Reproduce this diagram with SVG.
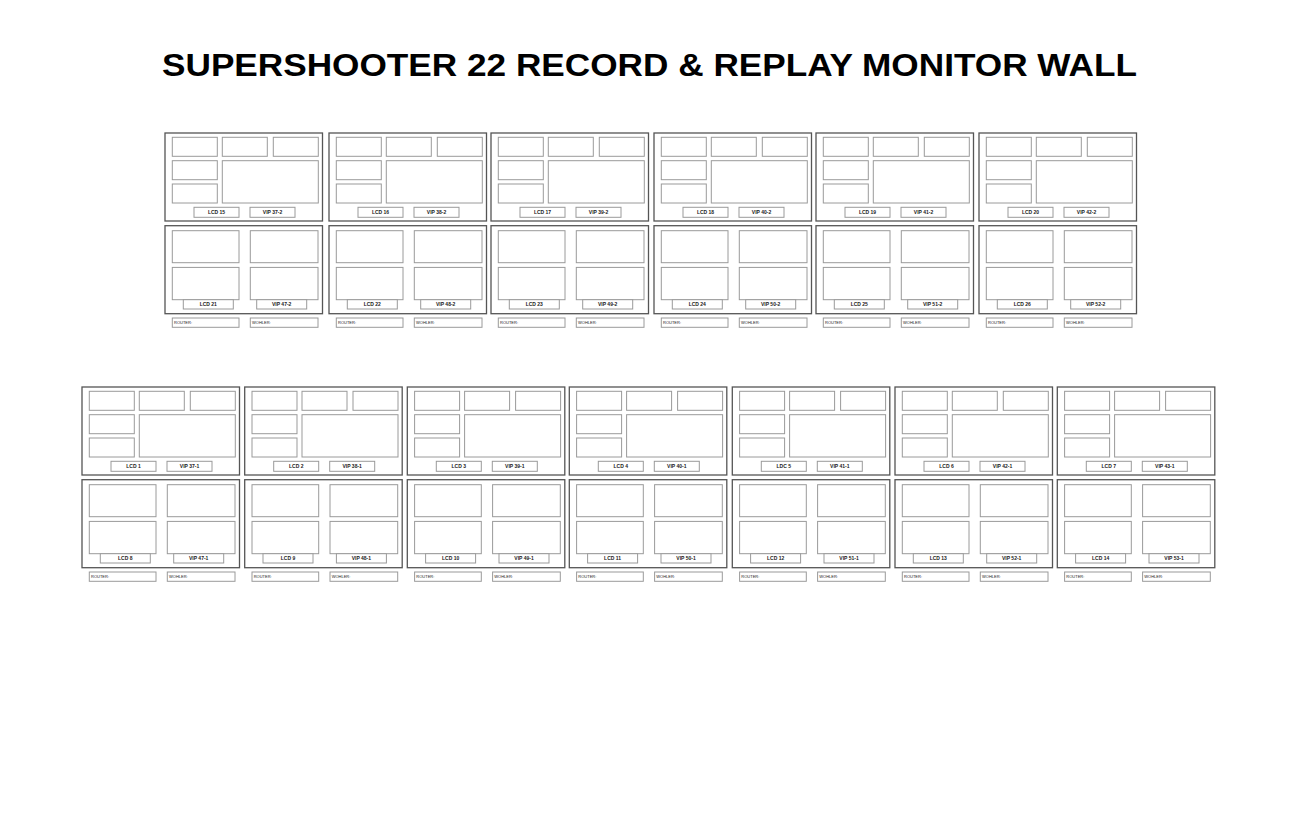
<svg xmlns="http://www.w3.org/2000/svg" xmlns:xlink="http://www.w3.org/1999/xlink" width="1300" height="835" viewBox="0 0 1300 835">
<style>
.frame{fill:#fff;stroke:#555;stroke-width:1.3}
.box{fill:#fff;stroke:#9a9a9a;stroke-width:1}
.lbl{font-family:"Liberation Sans",Arial,sans-serif;font-size:5px;font-weight:bold;fill:#222;text-anchor:middle}
.ft{font-family:"Liberation Sans",Arial,sans-serif;font-size:4px;fill:#222}
.title{font-family:"Liberation Sans",Arial,sans-serif;font-size:32px;font-weight:bold;fill:#000}
</style>
<defs>
<g id="upper">
<rect class="frame" x="0" y="0" width="157.5" height="88"/>
<rect class="box" x="7.3" y="4.3" width="45" height="19"/>
<rect class="box" x="57.3" y="4.3" width="45" height="19"/>
<rect class="box" x="108.3" y="4.3" width="45" height="19"/>
<rect class="box" x="7.3" y="27.7" width="45" height="19"/>
<rect class="box" x="7.3" y="51" width="45" height="19"/>
<rect class="box" x="57.3" y="27.7" width="96" height="42.3"/>
<rect class="box" x="29" y="74.3" width="45" height="10"/>
<rect class="box" x="85" y="74.3" width="45" height="10"/>
</g>
<g id="lower">
<rect class="frame" x="0" y="0" width="157.5" height="88"/>
<rect class="box" x="7.3" y="5" width="66.7" height="32"/>
<rect class="box" x="85.3" y="5" width="67.7" height="32"/>
<rect class="box" x="7.3" y="41.7" width="66.7" height="32.3"/>
<rect class="box" x="85.3" y="41.7" width="67.7" height="32.3"/>
<rect class="box" x="18.3" y="74" width="50" height="9.3"/>
<rect class="box" x="91.7" y="74" width="50" height="9.3"/>
<rect class="box" x="7.3" y="92.3" width="66.7" height="9.3"/>
<rect class="box" x="85.3" y="92.3" width="67.7" height="9.3"/>
<text class="ft" x="9" y="98.5">ROUTER:</text>
<text class="ft" x="87" y="98.5">WOHLER:</text>
</g>
</defs>
<rect width="1300" height="835" fill="#fff"/>
<text class="title" x="162" y="76" textLength="975" lengthAdjust="spacingAndGlyphs">SUPERSHOOTER 22 RECORD &amp; REPLAY MONITOR WALL</text>

<g id="top-row">
<g id="mon-lcd15" transform="translate(165,133)"><use xlink:href="#upper"/><text class="lbl" x="51.5" y="81">LCD 15</text><text class="lbl" x="107.5" y="81">VIP 37-2</text></g>
<g id="mon-lcd16" transform="translate(329,133)"><use xlink:href="#upper"/><text class="lbl" x="51.5" y="81">LCD 16</text><text class="lbl" x="107.5" y="81">VIP 38-2</text></g>
<g id="mon-lcd17" transform="translate(491,133)"><use xlink:href="#upper"/><text class="lbl" x="51.5" y="81">LCD 17</text><text class="lbl" x="107.5" y="81">VIP 39-2</text></g>
<g id="mon-lcd18" transform="translate(654,133)"><use xlink:href="#upper"/><text class="lbl" x="51.5" y="81">LCD 18</text><text class="lbl" x="107.5" y="81">VIP 40-2</text></g>
<g id="mon-lcd19" transform="translate(816,133)"><use xlink:href="#upper"/><text class="lbl" x="51.5" y="81">LCD 19</text><text class="lbl" x="107.5" y="81">VIP 41-2</text></g>
<g id="mon-lcd20" transform="translate(979,133)"><use xlink:href="#upper"/><text class="lbl" x="51.5" y="81">LCD 20</text><text class="lbl" x="107.5" y="81">VIP 42-2</text></g>

<g id="mon-lcd21" transform="translate(165,225.7)"><use xlink:href="#lower"/><text class="lbl" x="43.3" y="80.5">LCD 21</text><text class="lbl" x="116.7" y="80.5">VIP 47-2</text></g>
<g id="mon-lcd22" transform="translate(329,225.7)"><use xlink:href="#lower"/><text class="lbl" x="43.3" y="80.5">LCD 22</text><text class="lbl" x="116.7" y="80.5">VIP 48-2</text></g>
<g id="mon-lcd23" transform="translate(491,225.7)"><use xlink:href="#lower"/><text class="lbl" x="43.3" y="80.5">LCD 23</text><text class="lbl" x="116.7" y="80.5">VIP 49-2</text></g>
<g id="mon-lcd24" transform="translate(654,225.7)"><use xlink:href="#lower"/><text class="lbl" x="43.3" y="80.5">LCD 24</text><text class="lbl" x="116.7" y="80.5">VIP 50-2</text></g>
<g id="mon-lcd25" transform="translate(816,225.7)"><use xlink:href="#lower"/><text class="lbl" x="43.3" y="80.5">LCD 25</text><text class="lbl" x="116.7" y="80.5">VIP 51-2</text></g>
<g id="mon-lcd26" transform="translate(979,225.7)"><use xlink:href="#lower"/><text class="lbl" x="43.3" y="80.5">LCD 26</text><text class="lbl" x="116.7" y="80.5">VIP 52-2</text></g>
</g>

<g id="bottom-row">
<g id="mon-lcd1" transform="translate(82,387)"><use xlink:href="#upper"/><text class="lbl" x="51.5" y="81">LCD 1</text><text class="lbl" x="107.5" y="81">VIP 37-1</text></g>
<g id="mon-lcd2" transform="translate(244.7,387)"><use xlink:href="#upper"/><text class="lbl" x="51.5" y="81">LCD 2</text><text class="lbl" x="107.5" y="81">VIP 38-1</text></g>
<g id="mon-lcd3" transform="translate(407.3,387)"><use xlink:href="#upper"/><text class="lbl" x="51.5" y="81">LCD 3</text><text class="lbl" x="107.5" y="81">VIP 39-1</text></g>
<g id="mon-lcd4" transform="translate(569.3,387)"><use xlink:href="#upper"/><text class="lbl" x="51.5" y="81">LCD 4</text><text class="lbl" x="107.5" y="81">VIP 40-1</text></g>
<g id="mon-lcd5" transform="translate(732.3,387)"><use xlink:href="#upper"/><text class="lbl" x="51.5" y="81">LDC 5</text><text class="lbl" x="107.5" y="81">VIP 41-1</text></g>
<g id="mon-lcd6" transform="translate(895,387)"><use xlink:href="#upper"/><text class="lbl" x="51.5" y="81">LCD 6</text><text class="lbl" x="107.5" y="81">VIP 42-1</text></g>
<g id="mon-lcd7" transform="translate(1057.3,387)"><use xlink:href="#upper"/><text class="lbl" x="51.5" y="81">LCD 7</text><text class="lbl" x="107.5" y="81">VIP 43-1</text></g>

<g id="mon-lcd8" transform="translate(82,479.7)"><use xlink:href="#lower"/><text class="lbl" x="43.3" y="80.5">LCD 8</text><text class="lbl" x="116.7" y="80.5">VIP 47-1</text></g>
<g id="mon-lcd9" transform="translate(244.7,479.7)"><use xlink:href="#lower"/><text class="lbl" x="43.3" y="80.5">LCD 9</text><text class="lbl" x="116.7" y="80.5">VIP 48-1</text></g>
<g id="mon-lcd10" transform="translate(407.3,479.7)"><use xlink:href="#lower"/><text class="lbl" x="43.3" y="80.5">LCD 10</text><text class="lbl" x="116.7" y="80.5">VIP 49-1</text></g>
<g id="mon-lcd11" transform="translate(569.3,479.7)"><use xlink:href="#lower"/><text class="lbl" x="43.3" y="80.5">LCD 11</text><text class="lbl" x="116.7" y="80.5">VIP 50-1</text></g>
<g id="mon-lcd12" transform="translate(732.3,479.7)"><use xlink:href="#lower"/><text class="lbl" x="43.3" y="80.5">LCD 12</text><text class="lbl" x="116.7" y="80.5">VIP 51-1</text></g>
<g id="mon-lcd13" transform="translate(895,479.7)"><use xlink:href="#lower"/><text class="lbl" x="43.3" y="80.5">LCD 13</text><text class="lbl" x="116.7" y="80.5">VIP 52-1</text></g>
<g id="mon-lcd14" transform="translate(1057.3,479.7)"><use xlink:href="#lower"/><text class="lbl" x="43.3" y="80.5">LCD 14</text><text class="lbl" x="116.7" y="80.5">VIP 53-1</text></g>
</g>
<g id="connectors"/>
</svg>
